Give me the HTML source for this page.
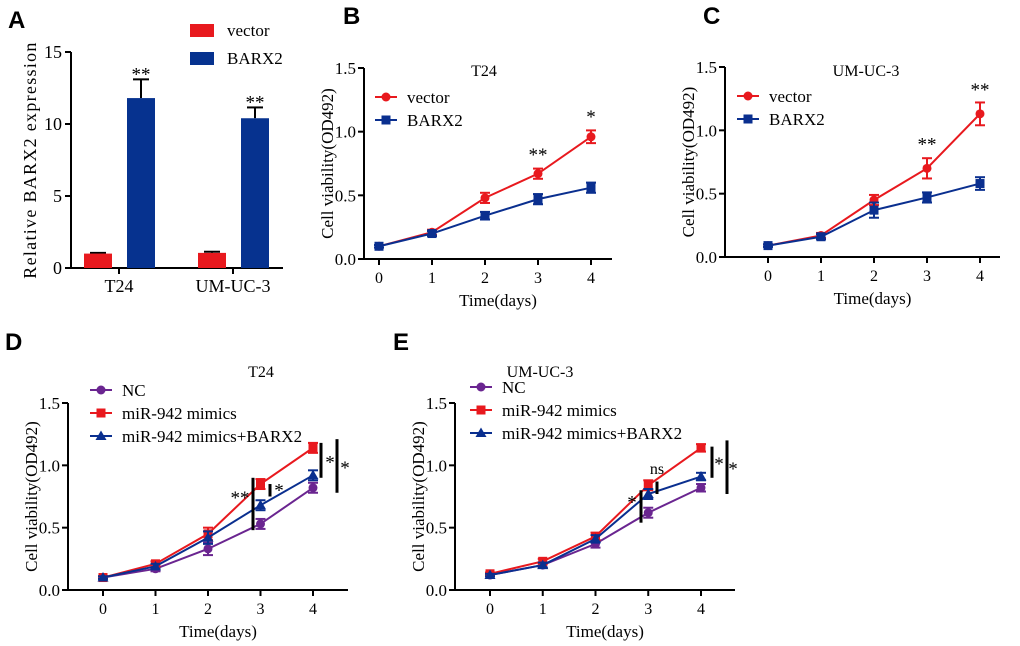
<!DOCTYPE html>
<html><head><meta charset="utf-8"><style>
body{margin:0;background:#fff}
svg{display:block;font-family:"Liberation Serif",serif}
.let{font-family:"Liberation Sans",sans-serif;font-weight:bold;font-size:24px}
</style></head><body>
<svg id="c" width="1020" height="646" viewBox="0 0 1020 646"></svg>
<script>
// Panel A data
const aCats=["T24","UM-UC-3"];
const aVector=[1.0,1.05];
const aVectorErr=[0.05,0.08];
const aBarx2=[11.8,10.4];
const aBarx2Err=[1.3,0.75];
const aTicks=[0,5,10,15];
// Line panels data
const days=[0,1,2,3,4];
const lineTicks=[0.0,0.5,1.0,1.5];
const bVector=[0.10,0.21,0.48,0.67,0.96];
const bVectorErr=[0.01,0.02,0.04,0.04,0.05];
const bBarx2=[0.10,0.20,0.34,0.47,0.56];
const bBarx2Err=[0.01,0.02,0.03,0.04,0.04];
const cVector=[0.09,0.17,0.45,0.70,1.13];
const cVectorErr=[0.01,0.02,0.04,0.08,0.09];
const cBarx2=[0.09,0.16,0.37,0.47,0.58];
const cBarx2Err=[0.01,0.02,0.06,0.04,0.05];
const dNC=[0.10,0.17,0.33,0.53,0.82];
const dMimics=[0.10,0.21,0.45,0.85,1.14];
const dMimicsBarx2=[0.10,0.19,0.42,0.68,0.92];
const dErr=[0.01,0.02,0.05,0.04,0.04];
const eNC=[0.12,0.20,0.37,0.62,0.82];
const eMimics=[0.13,0.23,0.43,0.84,1.14];
const eMimicsBarx2=[0.12,0.20,0.41,0.77,0.91];
const eErr=[0.01,0.02,0.03,0.04,0.03];

const svg=document.getElementById('c');
const NS='http://www.w3.org/2000/svg';
function mk(tag,attrs,name,text){const e=document.createElementNS(NS,tag);for(const k in attrs)e.setAttribute(k,attrs[k]);


if(text!==undefined)e.textContent=text;svg.appendChild(e);return e;}
function line(x1,y1,x2,y2,name,w,col){return mk('line',{x1,y1,x2,y2,stroke:col||'#000','stroke-width':w||2},name);}
function txt(x,y,s,name,size,anchor,extra){return mk('text',Object.assign({x,y,'font-size':size||15,'text-anchor':anchor||'middle',fill:'#000'},extra||{}),name,s);}

// Panel A
(function(){
 const x0=71,yb=268,yt=52,xe=283;const ys=v=>yb-(v/15)*(yb-yt);
 txt(8,28,'A','panel-letter-a',24,'start',{class:'let'});
 line(x0,yt,x0,yb+1,'a-y-axis');line(x0,yb,xe,yb,'a-x-axis');
 aTicks.forEach(t=>{line(x0-6,ys(t),x0,ys(t),'a-y-tick');txt(x0-9,ys(t)+6,String(t),'a-y-tick-label',18,'end');});
 const centers=[119,233];
 aCats.forEach((c,i)=>{const cx=centers[i];
  line(cx,yb,cx,yb+6,'a-x-tick');txt(cx,yb+24,c,'a-x-tick-label',18);
  const vx=cx-35,bx=cx+8,w=28;
  line(vx+w/2,ys(aVector[i]+aVectorErr[i]),vx+w/2,ys(aVector[i]),'a-vector-error',2);
  line(vx+w/2-8,ys(aVector[i]+aVectorErr[i]),vx+w/2+8,ys(aVector[i]+aVectorErr[i]),'a-vector-error-cap',2);
  mk('rect',{x:vx,y:ys(aVector[i]),width:w,height:yb-ys(aVector[i]),fill:'#e8191e'},'a-bar-vector');
  line(bx+w/2,ys(aBarx2[i]+aBarx2Err[i]),bx+w/2,ys(aBarx2[i]),'a-barx2-error',2);
  line(bx+w/2-8,ys(aBarx2[i]+aBarx2Err[i]),bx+w/2+8,ys(aBarx2[i]+aBarx2Err[i]),'a-barx2-error-cap',2);
  mk('rect',{x:bx,y:ys(aBarx2[i]),width:w,height:yb-ys(aBarx2[i]),fill:'#06328f'},'a-bar-barx2');
  txt(bx+w/2,ys(aBarx2[i]+aBarx2Err[i])+1,'**','a-significance',19);
 });
 txt(0,0,'Relative BARX2 expression','a-y-axis-title',18,'middle',{transform:'translate(36,160) rotate(-90)','letter-spacing':'1.3'});
 mk('rect',{x:190,y:24,width:24,height:13,fill:'#e8191e'},'a-legend-swatch-vector');
 txt(227,36,'vector','a-legend-vector',17,'start');
 mk('rect',{x:190,y:52,width:24,height:13,fill:'#06328f'},'a-legend-swatch-barx2');
 txt(227,64,'BARX2','a-legend-barx2',17,'start');
})();

function marker(type,x,y,col,name){
 if(type==='circle')mk('circle',{cx:x,cy:y,r:4.5,fill:col},name);
 else if(type==='square')mk('rect',{x:x-4.5,y:y-4.5,width:9,height:9,fill:col},name);
 else mk('polygon',{points:`${x},${y-5.5} ${x-5.5},${y+4} ${x+5.5},${y+4}`,fill:col},name);
}
function panel(p){
 const {id,x0,yb,yt,xs,xe}=p;const ys=v=>yb-(v/1.5)*(yb-yt);const xsf=d=>xs[0]+d*(xs[1]-xs[0]);
 txt(p.lx,p.ly,p.letter,'panel-letter-'+id,24,'start',{class:'let'});
 line(x0,yt,x0,yb+1,id+'-y-axis');line(x0,yb,xe,yb,id+'-x-axis');
 lineTicks.forEach(t=>{line(x0-6,ys(t),x0,ys(t),id+'-y-tick');txt(x0-8,ys(t)+6,t.toFixed(1),id+'-y-tick-label',17,'end');});
 days.forEach(d=>{line(xsf(d),yb,xsf(d),yb+6,id+'-x-tick');txt(xsf(d),yb+24,String(d),id+'-x-tick-label',16);});
 txt((x0+xe)/2+10,yb+47,'Time(days)',id+'-x-axis-title',17);
 txt(0,0,'Cell viability(OD492)',id+'-y-axis-title',17,'middle',{transform:`translate(${x0-31},${(yb+yt)/2}) rotate(-90)`});
 txt(p.tx,p.ty,p.title,id+'-title',16);
 p.series.forEach((s,si)=>{
  const pts=days.map(d=>[xsf(d),ys(s.v[d])]);
  mk('polyline',{points:pts.map(q=>q.join(',')).join(' '),fill:'none',stroke:s.col,'stroke-width':2},id+'-line-'+s.key);
  days.forEach(d=>{const x=xsf(d),e=s.e[d];
   line(x,ys(s.v[d]+e),x,ys(s.v[d]-e),id+'-error-'+s.key,2,s.col);
   line(x-5,ys(s.v[d]+e),x+5,ys(s.v[d]+e),id+'-error-cap-'+s.key,2,s.col);
   line(x-5,ys(s.v[d]-e),x+5,ys(s.v[d]-e),id+'-error-cap-'+s.key,2,s.col);
   marker(s.m,x,ys(s.v[d]),s.col,id+'-point-'+s.key);});
  const ly=p.legY+si*23;
  line(p.legX,ly,p.legX+22,ly,id+'-legend-line-'+s.key,2,s.col);
  marker(s.m,p.legX+11,ly,s.col,id+'-legend-marker-'+s.key);
  txt(p.legX+32,ly+6,s.label,id+'-legend-'+s.key,17,'start');
 });
 (p.sig||[]).forEach(g=>{line(g.x,ys(g.lo),g.x,ys(g.hi),id+'-significance-bar',3);
  txt(g.tx,ys((g.lo+g.hi)/2)+g.dy,g.t,id+'-significance-label',g.t==='ns'?16:19);});
 (p.stars||[]).forEach(g=>{txt(xsf(g.d),ys(g.v),g.t,id+'-significance-label',19);});
}
const R='#e8191e',B='#0a2f8f',P='#6a2590';
panel({id:'b',letter:'B',lx:343,ly:24,x0:364,yb:259,yt:68,xs:[379,432],xe:612,tx:484,ty:76,title:'T24',legX:375,legY:97,
 series:[{key:'vector',label:'vector',v:bVector,e:bVectorErr,col:R,m:'circle'},{key:'barx2',label:'BARX2',v:bBarx2,e:bBarx2Err,col:B,m:'square'}],
 stars:[{d:3,v:0.77,t:'**'},{d:4,v:1.07,t:'*'}]});
panel({id:'c',letter:'C',lx:703,ly:24,x0:725,yb:257,yt:67,xs:[768,821],xe:1000,tx:866,ty:76,title:'UM-UC-3',legX:737,legY:96,
 series:[{key:'vector',label:'vector',v:cVector,e:cVectorErr,col:R,m:'circle'},{key:'barx2',label:'BARX2',v:cBarx2,e:cBarx2Err,col:B,m:'square'}],
 stars:[{d:3,v:0.84,t:'**'},{d:4,v:1.27,t:'**'}]});
panel({id:'d',letter:'D',lx:5,ly:350,x0:68,yb:590,yt:403,xs:[103,155.5],xe:348,tx:261,ty:377,title:'T24',legX:90,legY:390,
 series:[{key:'nc',label:'NC',v:dNC,e:dErr,col:P,m:'circle'},{key:'mimics',label:'miR-942 mimics',v:dMimics,e:dErr,col:R,m:'square'},{key:'mimics-barx2',label:'miR-942 mimics+BARX2',v:dMimicsBarx2,e:dErr,col:B,m:'triangle'}],
 sig:[{x:253,lo:0.48,hi:0.9,t:'**',tx:240,dy:0},{x:270,lo:0.75,hi:0.85,t:'*',tx:279,dy:6},{x:321,lo:0.9,hi:1.18,t:'*',tx:330,dy:8},{x:337,lo:0.78,hi:1.21,t:'*',tx:345,dy:8}]});
panel({id:'e',letter:'E',lx:393,ly:350,x0:455,yb:590,yt:403,xs:[490,542.75],xe:735,tx:540,ty:377,title:'UM-UC-3',legX:470,legY:387,
 series:[{key:'nc',label:'NC',v:eNC,e:eErr,col:P,m:'circle'},{key:'mimics',label:'miR-942 mimics',v:eMimics,e:eErr,col:R,m:'square'},{key:'mimics-barx2',label:'miR-942 mimics+BARX2',v:eMimicsBarx2,e:eErr,col:B,m:'triangle'}],
 sig:[{x:641,lo:0.54,hi:0.8,t:'*',tx:632,dy:2},{x:657,lo:0.77,hi:0.87,t:'ns',tx:657,dy:-14},{x:712,lo:0.9,hi:1.15,t:'*',tx:719,dy:8},{x:727,lo:0.77,hi:1.2,t:'*',tx:733,dy:8}]});
</script>
</body></html>
